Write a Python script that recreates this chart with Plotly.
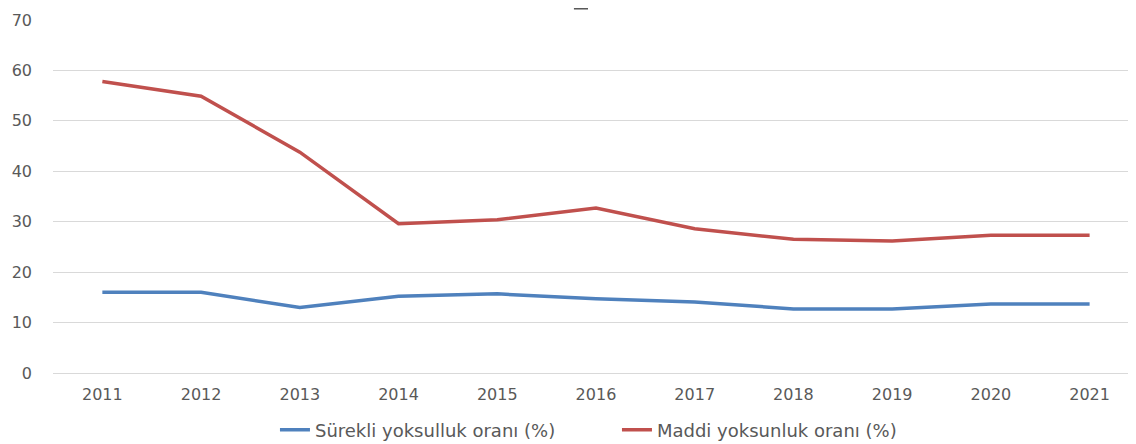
import plotly.graph_objects as go

years = ["2011", "2012", "2013", "2014", "2015", "2016", "2017", "2018", "2019", "2020", "2021"]
surekli = [16.0, 16.0, 13.0, 15.2, 15.7, 14.7, 14.1, 12.7, 12.7, 13.7, 13.7]
maddi = [57.8, 54.9, 43.8, 29.6, 30.4, 32.7, 28.6, 26.5, 26.2, 27.3, 27.3]

fig = go.Figure()
fig.add_trace(go.Scatter(x=years, y=surekli, mode="lines", name="Sürekli yoksulluk oranı (%)",
                         line=dict(color="#4F81BD", width=3.5)))
fig.add_trace(go.Scatter(x=years, y=maddi, mode="lines", name="Maddi yoksunluk oranı (%)",
                         line=dict(color="#C0504D", width=3.5)))

font = "DejaVu Sans, sans-serif"
fig.update_layout(
    width=1136, height=444,
    margin=dict(l=45, r=8, t=11.5, b=78.5, autoexpand=False),
    plot_bgcolor="white", paper_bgcolor="white",
    font=dict(family=font, size=16, color="#595959"),
    showlegend=True,
    legend=dict(orientation="h", xref="container", yref="container", x=0.235, y=0.008,
                xanchor="left", yanchor="bottom", font=dict(size=18, color="#595959"),
                entrywidth=297, itemwidth=30),
    xaxis=dict(type="category", range=[-0.5, 10.47], showgrid=False, showline=False,
               zeroline=False, ticks="", ticklabelstandoff=10,
               tickfont=dict(size=16, color="#595959")),
    yaxis=dict(range=[0, 70], dtick=10, showgrid=True, gridcolor="#D9D9D9", gridwidth=1.3,
               zeroline=True, zerolinecolor="#D9D9D9", zerolinewidth=1.3,
               showline=False, ticks="", ticklabelstandoff=20,
               tickfont=dict(size=16, color="#595959")),
    shapes=[dict(type="line", xref="paper", yref="paper", x0=0.481, x1=0.494,
                 y0=1.0325, y1=1.0325, line=dict(color="#595959", width=2))],
)
fig.write_html("out.html")
